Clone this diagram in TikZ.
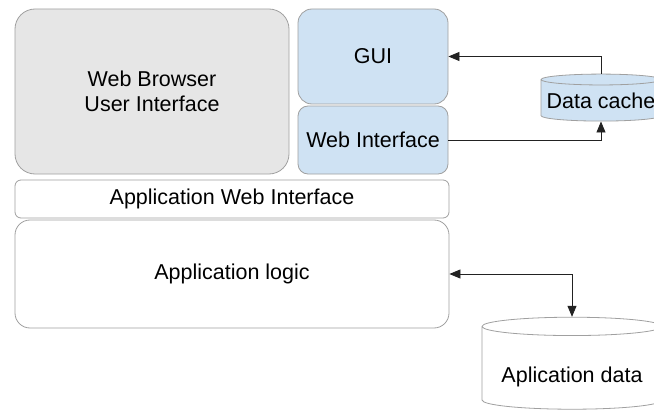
\documentclass[tikz,border=0pt]{standalone}
\usepackage{fontspec}
\setmainfont{Liberation Sans}
\usetikzlibrary{shapes.geometric,arrows.meta}

\definecolor{boxline}{HTML}{A0A0A0}
\definecolor{browsergray}{HTML}{E6E6E6}
\definecolor{guiblue}{HTML}{CFE2F3}
\definecolor{linkline}{HTML}{222222}

\begin{document}
\begin{tikzpicture}[
    layer/.style={draw=boxline, line width=0.8pt, align=center,
        font=\fontsize{21.5}{25}\selectfont, inner sep=0pt},
    store/.style={draw=boxline, line width=0.8pt, shape=cylinder,
        shape border rotate=90, inner sep=0pt,
        font=\fontsize{21.5}{25}\selectfont},
    link/.style={draw=linkline, line width=0.8pt,
        -{Triangle[length=11pt,width=9pt]}}
]
\useasboundingbox (0pt,0pt) rectangle (654pt,-412pt);
\clip (0pt,0pt) rectangle (654pt,-412pt);

% Browser side
\node (browser) [layer,
    fill=browsergray,
    rounded corners=20pt,
    minimum width=274pt,
    minimum height=165pt,
    xshift=152pt,
    yshift=-91.5pt
] {Web Browser\\User Interface};

\node (gui) [layer,
    fill=guiblue,
    rounded corners=14pt,
    minimum width=150pt,
    minimum height=95pt,
    xshift=373pt,
    yshift=-56.5pt
] {GUI};

\node (webif) [layer,
    fill=guiblue,
    rounded corners=10pt,
    minimum width=150pt,
    minimum height=68pt,
    xshift=373pt,
    yshift=-140pt
] {Web Interface};

%-------------------------------------
% Application
\node (appweb) [layer,
    fill=white,
    rounded corners=6pt,
    minimum width=434pt,
    minimum height=38pt,
    xshift=232pt,
    yshift=-199pt
] {Application Web Interface};

\node (logic) [layer,
    fill=white,
    rounded corners=15pt,
    minimum width=434pt,
    minimum height=108pt,
    xshift=232pt,
    yshift=-274pt
] {Application logic};

%-------------------------------------
% Storage
\node (cache) [store,
    fill=guiblue,
    aspect=0.1,
    minimum width=120pt,
    minimum height=47pt,
    xshift=601pt,
    yshift=-100.5pt
] {Data cache};

\node (appdata) [store,
    fill=white,
    aspect=0.13,
    minimum width=180pt,
    minimum height=92pt,
    xshift=572pt,
    yshift=-368pt
] {\raisebox{-14.5pt}[0pt][0pt]{Aplication data}};

% links
\draw [link] (cache.top) |- (gui.east);
\draw [link] (webif.east) -| (cache.bottom);
\draw [link, {Triangle[length=11pt,width=9pt]}-{Triangle[length=11pt,width=9pt]}] (logic.east) -| (appdata.top);

\end{tikzpicture}
\end{document}
